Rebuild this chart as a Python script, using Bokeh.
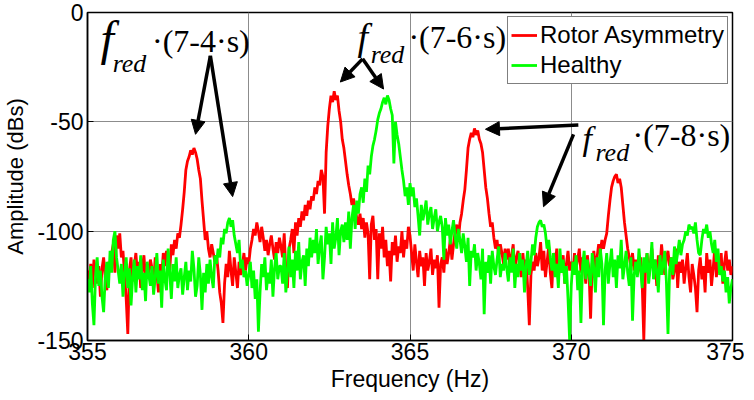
import numpy as np
from bokeh.plotting import figure
from bokeh.models import (Range1d, Legend, LegendItem, Label, Arrow, NormalHead,
                          FixedTicker, CustomJSTickFormatter)
from bokeh.embed import file_html
from bokeh.resources import INLINE

# ---------------- data ----------------
f_start, f_stop, n_pts = 355.0, 375.0, 401
freq = np.round(np.linspace(f_start, f_stop, n_pts), 2)

rotor_asym = [
    -118,-122,-115,-126,-113,-119,-124,-116,-130,-117,-112,-121,-127,-114,-118,-110,-106,-119,-102,-108,
    -101,-112,-109,-120,-131,-147,-118,-112,-123,-116,-110,-120,-114,-126,-117,-111,-122,-115,-119,-113,
    -117,-124,-112,-119,-128,-115,-121,-110,-116,-109,-112,-118,-106,-111,-104,-108,-101,-103,-97,-90,
    -82,-72,-68,-66,-63,-65,-62,-64,-67,-72,-76,-86,-95,-104,-100,-108,-112,-106,-110,-114,
    -111,-118,-128,-133,-142,-124,-115,-121,-109,-118,-125,-112,-119,-126,-114,-120,-116,-110,-118,-112,
    -115,-108,-104,-99,-102,-96,-100,-105,-98,-103,-109,-104,-111,-106,-102,-108,-113,-105,-110,-103,
    -107,-112,-101,-118,-126,-108,-104,-99,-110,-96,-102,-94,-98,-91,-95,-88,-93,-86,-90,-84,
    -86,-80,-83,-77,-79,-72,-75,-92,-64,-52,-44,-38,-41,-36,-40,-38,-45,-50,-58,-62,
    -68,-74,-79,-83,-88,-85,-90,-94,-97,-92,-99,-94,-103,-96,-101,-122,-97,-93,-104,-99,
    -122,-101,-108,-98,-112,-104,-116,-109,-123,-105,-111,-102,-114,-107,-110,-100,-112,-104,-108,-98,
    -102,-110,-118,-106,-114,-121,-109,-116,-112,-125,-110,-118,-114,-108,-120,-113,-117,-111,-135,-115,
    -112,-119,-108,-115,-110,-104,-113,-106,-100,-97,-104,-96,-92,-86,-81,-72,-62,-58,-55,-57,
    -53,-56,-54,-58,-60,-64,-72,-80,-85,-92,-98,-96,-103,-108,-104,-112,-106,-110,-115,-108,
    -113,-108,-117,-111,-106,-119,-112,-109,-115,-121,-110,-118,-113,-126,-143,-120,-114,-118,-110,-116,
    -112,-105,-118,-109,-121,-114,-107,-119,-126,-110,-116,-108,-122,-113,-117,-111,-124,-115,-109,-118,
    -114,-120,-110,-117,-113,-108,-119,-112,-116,-124,-111,-118,-140,-115,-109,-117,-112,-106,-110,-104,
    -108,-104,-101,-93,-86,-80,-77,-75,-74,-78,-76,-80,-88,-96,-102,-108,-112,-116,-110,-118,
    -113,-120,-117,-112,-124,-150,-118,-110,-121,-115,-108,-119,-113,-125,-111,-117,-106,-114,-120,-112,
    -109,-116,-112,-122,-118,-108,-126,-114,-119,-113,-124,-117,-110,-121,-128,-115,-120,-126,-137,-118,
    -112,-122,-116,-128,-110,-119,-113,-125,-117,-108,-121,-114,-119,-110,-124,-115,-109,-118,-113,-120,-116,
]

healthy = [
    -122,-128,-116,-133,-143,-120,-112,-125,-118,-130,-137,-121,-114,-126,-109,-119,-104,-100,-112,-118,
    -124,-115,-130,-119,-112,-126,-117,-134,-121,-113,-128,-116,-122,-111,-127,-119,-132,-114,-120,-125,
    -116,-129,-121,-110,-124,-118,-135,-113,-122,-127,-108,-119,-131,-115,-123,-112,-126,-120,-117,-129,
    -121,-114,-127,-118,-123,-109,-117,-130,-125,-112,-120,-136,-119,-128,-115,-124,-113,-121,-126,-111,
    -115,-108,-112,-103,-106,-99,-101,-96,-94,-98,-95,-102,-106,-110,-104,-117,-113,-121,-118,-125,
    -120,-114,-126,-118,-131,-122,-146,-128,-115,-121,-112,-127,-119,-124,-113,-130,-117,-110,-122,-116,
    -116,-124,-110,-128,-119,-107,-121,-113,-126,-109,-118,-105,-122,-114,-111,-125,-108,-116,-103,-112,
    -104,-110,-99,-115,-107,-102,-122,-112,-98,-106,-101,-115,-96,-108,-103,-94,-111,-100,-97,-105,
    -96,-104,-91,-108,-94,-88,-99,-86,-92,-83,-80,-87,-76,-82,-70,-74,-66,-61,-58,-54,
    -49,-46,-44,-41,-39,-42,-38,-40,-44,-47,-69,-50,-56,-60,-66,-72,-77,-84,-80,-88,
    -78,-84,-80,-89,-85,-93,-102,-88,-95,-91,-86,-97,-92,-89,-99,-94,-90,-100,-96,-93,
    -98,-113,-94,-102,-97,-106,-100,-95,-103,-108,-99,-104,-110,-101,-107,-114,-103,-125,-109,-112,
    -106,-118,-110,-115,-122,-108,-138,-114,-119,-111,-124,-109,-116,-120,-113,-107,-121,-115,-118,-110,
    -117,-123,-112,-119,-108,-126,-115,-121,-110,-118,-113,-128,-116,-109,-120,-114,-106,-111,-103,-98,
    -96,-95,-98,-97,-101,-108,-104,-112,-118,-110,-121,-115,-126,-108,-119,-113,-124,-116,-131,-150,
    -125,-114,-120,-111,-127,-118,-142,-116,-109,-122,-113,-119,-125,-110,-117,-128,-112,-121,-108,-115,
    -143,-118,-110,-124,-115,-108,-121,-113,-126,-111,-117,-104,-122,-116,-109,-119,-125,-112,-141,-120,
    -114,-121,-108,-117,-126,-112,-119,-110,-124,-116,-105,-122,-113,-118,-128,-111,-120,-115,-109,-123,
    -147,-118,-112,-120,-107,-115,-110,-104,-111,-106,-104,-100,-102,-97,-99,-98,-101,-96,-104,-110,
    -111,-104,-99,-101,-97,-103,-100,-106,-110,-104,-114,-108,-120,-116,-123,-118,-128,-121,-133,-126,-122,
]

x_ticks = [355, 360, 365, 370, 375]
y_ticks = [-150, -100, -50, 0]
series_names = ["Rotor Asymmetry", "Healthy"]
series_colors = ["#ff0000", "#00ff00"]

# ---------------- figure ----------------
p = figure(frame_width=645, frame_height=328,
           min_border_left=86, min_border_right=12, min_border_top=12, min_border_bottom=10,
           x_range=Range1d(355, 375), y_range=Range1d(-150, 0),
           output_backend="svg", toolbar_location=None, background_fill_color="white")

r1 = p.line(freq, rotor_asym, line_color=series_colors[0], line_width=2.8)
r2 = p.line(freq, healthy, line_color=series_colors[1], line_width=2.8)

# axes & grid
plain = CustomJSTickFormatter(code="return tick.toString();")
for ax in (p.xaxis[0], p.yaxis[0]):
    ax.formatter = plain
    ax.major_label_text_font = "Liberation Sans"
    ax.major_label_text_font_size = "23px"
    ax.major_label_text_color = "black"
    ax.axis_label_text_font = "Liberation Sans"
    ax.axis_label_text_font_size = "23px"
    ax.axis_label_text_font_style = "normal"
    ax.axis_label_text_color = "black"
    ax.axis_line_color = "black"
    ax.axis_line_width = 1.5
    ax.major_tick_in = 6
    ax.major_tick_out = 0
    ax.minor_tick_line_color = None
    ax.major_tick_line_color = "black"

p.yaxis.axis_label_text_font_size = "22px"
p.xaxis.ticker = FixedTicker(ticks=x_ticks)
p.yaxis.ticker = FixedTicker(ticks=y_ticks)
p.xaxis.axis_label = "Frequency (Hz)"
p.yaxis.axis_label = "Amplitude (dBs)"
p.xaxis.major_label_standoff = 2
p.xaxis.axis_label_standoff = 3
p.yaxis.major_label_standoff = 4
p.yaxis.axis_label_standoff = 6

p.xgrid.ticker = FixedTicker(ticks=[360, 365, 370])
p.ygrid.ticker = FixedTicker(ticks=[-100, -50])
p.grid.grid_line_color = "#8c8c8c"
p.grid.grid_line_width = 1
p.outline_line_color = "black"
p.outline_line_width = 1.5
p.outline_line_alpha = 1

# legend
legend = Legend(items=[LegendItem(label=series_names[0], renderers=[r1]),
                       LegendItem(label=series_names[1], renderers=[r2])],
                location=(420, 256), margin=0, padding=3, spacing=0,
                glyph_width=26, glyph_height=30, label_height=30, label_standoff=3,
                label_text_font="Liberation Sans", label_text_font_size="24px",
                label_text_color="black",
                border_line_color="black", border_line_width=1.5,
                background_fill_color="white", background_fill_alpha=1)
p.add_layout(legend, "center")

# annotations
serif = "Liberation Serif"
def add_note(fx, fy, fsize, rx, ry, tx, ty, txt):
    p.add_layout(Label(x=fx, y=fy, text="f", text_font=serif, text_font_style="italic",
                       text_font_size=fsize, text_baseline="alphabetic", text_color="black"))
    p.add_layout(Label(x=rx, y=ry, text="red", text_font=serif, text_font_style="italic",
                       text_font_size="26px", text_baseline="alphabetic", text_color="black"))
    p.add_layout(Label(x=tx, y=ty, text=txt, text_font=serif,
                       text_font_size="32px", text_baseline="alphabetic", text_color="black"))

add_note(355.40, -12.0, "48px", 355.78, -23.1, 357.00, -13.2, "\u00b7(7-4\u00b7s)")
add_note(363.37, -11.4, "38px", 363.78, -19.4, 364.95, -11.0, "\u00b7(7-6\u00b7s)")
add_note(370.35, -57.6, "34px", 370.75, -64.2, 371.90, -55.8, "\u00b7(7-8\u00b7s)")

arrows = [
    ((358.81, -19.8), (358.35, -55.7)),
    ((358.81, -19.8), (359.50, -84.2)),
    ((363.53, -21.2), (362.84, -31.8)),
    ((363.53, -21.2), (364.18, -35.0)),
    ((370.22, -51.5), (367.34, -53.4)),
    ((370.07, -55.7), (369.14, -88.8)),
]
for (x0, y0), (x1, y1) in arrows:
    p.add_layout(Arrow(x_start=x0, y_start=y0, x_end=x1, y_end=y1,
                       line_color="black", line_width=3.5,
                       end=NormalHead(size=14, fill_color="black", line_color="black",
                                      line_width=1)))

open("out.html", "w").write(file_html(p, INLINE))
